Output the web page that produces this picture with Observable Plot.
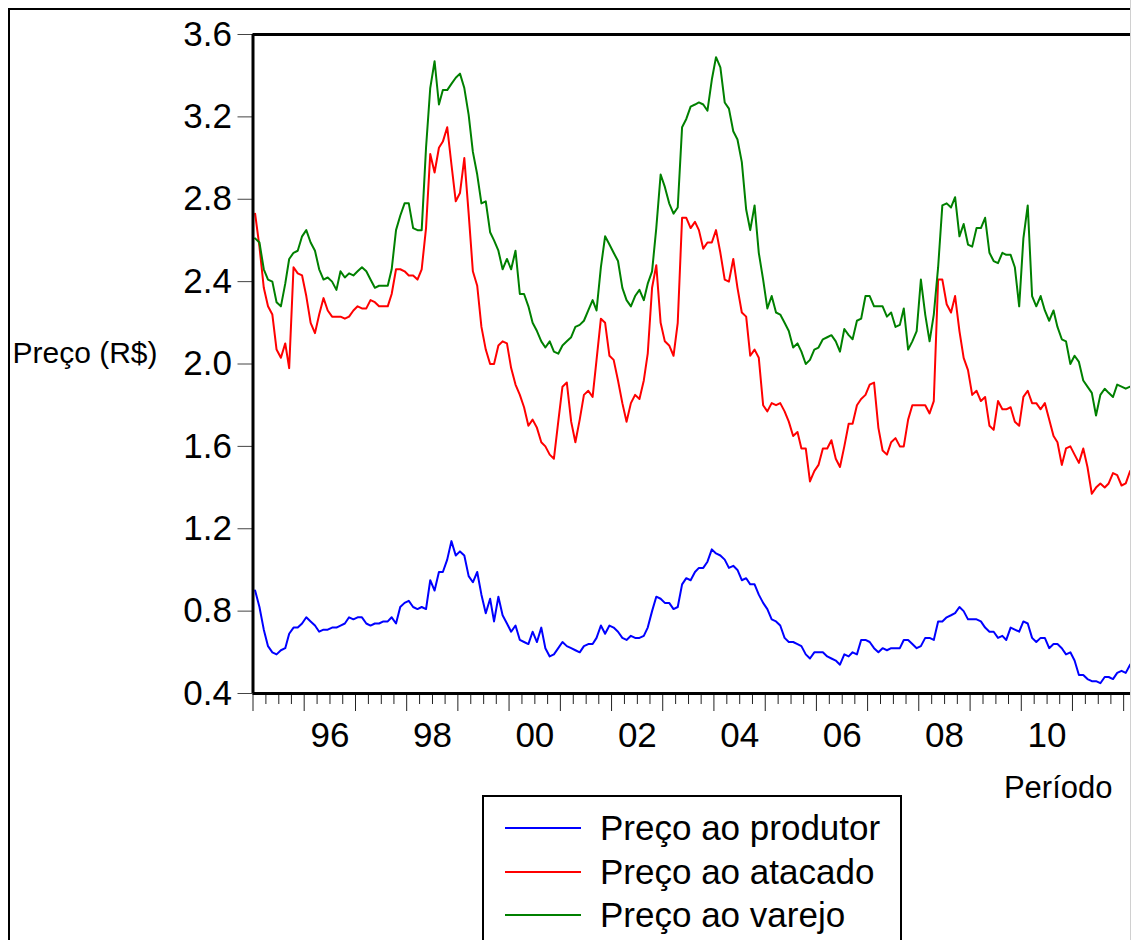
<!DOCTYPE html>
<html><head><meta charset="utf-8">
<script src="https://cdn.jsdelivr.net/npm/d3@7"></script>
<script src="https://cdn.jsdelivr.net/npm/@observablehq/plot@0.6"></script>
<style>
body{margin:0;background:#fff;font-family:"Liberation Sans",Arial,sans-serif;}
#wrap{position:relative;width:1131px;height:940px;overflow:hidden;background:#fff;}
#wrap svg{position:absolute;left:0;top:0;}
.abs{position:absolute;}
</style></head><body><div id="wrap"></div>
<script>
// first observation: July 1994, monthly
const startYear = 1994, startMonth = 7;
const produtor = [
0.90,0.82,0.71,0.63,0.60,0.59,0.61,0.62,0.69,0.72,
0.72,0.74,0.77,0.75,0.73,0.70,0.71,0.71,0.72,0.72,
0.73,0.74,0.77,0.76,0.77,0.77,0.74,0.73,0.74,0.74,
0.75,0.75,0.77,0.74,0.82,0.84,0.85,0.82,0.81,0.82,
0.81,0.95,0.90,0.99,0.99,1.05,1.14,1.07,1.09,1.07,
0.97,0.94,0.99,0.88,0.79,0.86,0.75,0.87,0.78,0.74,
0.70,0.73,0.66,0.65,0.64,0.70,0.65,0.72,0.62,0.58,
0.59,0.62,0.65,0.63,0.62,0.61,0.60,0.63,0.64,0.64,
0.67,0.73,0.69,0.73,0.72,0.70,0.67,0.66,0.68,0.67,
0.67,0.68,0.72,0.80,0.87,0.86,0.84,0.84,0.81,0.82,
0.93,0.96,0.95,0.99,1.01,1.01,1.04,1.10,1.08,1.07,
1.05,1.01,1.02,1.00,0.95,0.96,0.93,0.93,0.88,0.84,
0.81,0.76,0.75,0.73,0.67,0.65,0.65,0.64,0.63,0.59,
0.57,0.60,0.60,0.60,0.58,0.57,0.56,0.54,0.59,0.58,
0.60,0.59,0.66,0.66,0.65,0.62,0.60,0.62,0.61,0.62,
0.62,0.62,0.66,0.66,0.64,0.62,0.63,0.67,0.67,0.66,
0.75,0.75,0.77,0.78,0.79,0.82,0.80,0.76,0.76,0.76,
0.75,0.72,0.70,0.70,0.67,0.68,0.66,0.72,0.71,0.70,
0.75,0.74,0.67,0.65,0.67,0.67,0.62,0.64,0.64,0.62,
0.59,0.60,0.56,0.49,0.49,0.47,0.46,0.46,0.45,0.48,
0.48,0.47,0.50,0.51,0.50,0.54];
const atacado = [
2.73,2.57,2.37,2.28,2.24,2.07,2.03,2.10,1.98,2.47,
2.44,2.43,2.33,2.20,2.15,2.24,2.32,2.26,2.23,2.23,
2.23,2.22,2.23,2.26,2.28,2.27,2.27,2.31,2.30,2.28,
2.28,2.28,2.34,2.46,2.46,2.45,2.43,2.43,2.41,2.46,
2.66,3.02,2.93,3.05,3.08,3.15,2.97,2.79,2.83,3.00,
2.73,2.45,2.38,2.18,2.07,2.00,2.00,2.09,2.11,2.10,
1.98,1.90,1.85,1.79,1.70,1.73,1.69,1.62,1.60,1.56,
1.54,1.72,1.89,1.91,1.72,1.62,1.73,1.85,1.87,1.84,
2.02,2.22,2.20,2.04,2.02,1.92,1.81,1.72,1.81,1.85,
1.83,1.92,2.05,2.37,2.48,2.20,2.11,2.09,2.04,2.20,
2.71,2.71,2.66,2.69,2.65,2.56,2.59,2.59,2.65,2.54,
2.41,2.40,2.51,2.37,2.25,2.23,2.04,2.07,2.03,1.80,
1.77,1.81,1.80,1.81,1.77,1.72,1.65,1.67,1.59,1.59,
1.43,1.48,1.51,1.59,1.59,1.63,1.54,1.50,1.60,1.71,
1.71,1.80,1.83,1.85,1.90,1.91,1.69,1.58,1.56,1.62,
1.64,1.60,1.60,1.73,1.80,1.80,1.80,1.80,1.76,1.82,
2.41,2.41,2.29,2.25,2.33,2.16,2.03,1.97,1.85,1.87,
1.82,1.84,1.70,1.68,1.82,1.78,1.78,1.79,1.72,1.70,
1.84,1.87,1.81,1.81,1.78,1.81,1.73,1.65,1.62,1.51,
1.59,1.60,1.56,1.52,1.59,1.50,1.37,1.40,1.42,1.40,
1.42,1.47,1.46,1.41,1.42,1.48];
const varejo = [
2.61,2.59,2.46,2.41,2.40,2.30,2.28,2.39,2.51,2.54,
2.55,2.62,2.65,2.59,2.55,2.46,2.41,2.42,2.40,2.36,
2.45,2.42,2.44,2.43,2.45,2.47,2.45,2.41,2.37,2.38,
2.38,2.38,2.46,2.65,2.72,2.78,2.78,2.66,2.65,2.65,
3.05,3.34,3.47,3.26,3.33,3.33,3.36,3.39,3.41,3.34,
3.21,3.03,2.92,2.78,2.79,2.64,2.60,2.55,2.46,2.51,
2.46,2.55,2.34,2.34,2.28,2.20,2.16,2.11,2.08,2.11,
2.06,2.05,2.09,2.11,2.13,2.18,2.19,2.21,2.26,2.31,
2.26,2.47,2.62,2.58,2.54,2.50,2.37,2.31,2.28,2.33,
2.36,2.31,2.39,2.45,2.66,2.92,2.86,2.78,2.73,2.76,
3.15,3.19,3.25,3.26,3.27,3.26,3.23,3.38,3.49,3.44,
3.27,3.24,3.13,3.09,2.98,2.75,2.65,2.77,2.54,2.41,
2.27,2.33,2.25,2.24,2.20,2.16,2.08,2.10,2.06,2.00,
2.02,2.07,2.08,2.12,2.13,2.14,2.11,2.06,2.17,2.14,
2.12,2.21,2.22,2.33,2.33,2.28,2.28,2.28,2.23,2.25,
2.18,2.19,2.27,2.07,2.11,2.16,2.41,2.24,2.11,2.24,
2.47,2.77,2.78,2.76,2.81,2.62,2.68,2.58,2.57,2.66,
2.66,2.71,2.54,2.50,2.49,2.54,2.53,2.53,2.47,2.28,
2.61,2.77,2.33,2.28,2.33,2.26,2.21,2.26,2.18,2.12,
2.11,2.00,2.04,2.01,1.92,1.89,1.86,1.75,1.85,1.88,
1.86,1.84,1.90,1.89,1.88,1.89];
const seriesNames = ["Preço ao produtor", "Preço ao atacado", "Preço ao varejo"];
const seriesColors = ["#0000ff", "#ff0000", "#008000"];
const yTicks = [0.4, 0.8, 1.2, 1.6, 2.0, 2.4, 2.8, 3.2, 3.6];
const labelYears = [1996, 1998, 2000, 2002, 2004, 2006, 2008, 2010];
const tickYears = d3.range(1994, 2012);
const yLabel = "Preço (R$)";
const xLabel = "Período";

const FONT = '"Liberation Sans", Arial, Helvetica, sans-serif';
const obsDate = k => new Date(Date.UTC(startYear, startMonth - 1 + k, 16));
const allSeries = [produtor, atacado, varejo];
const rows = [];
allSeries.forEach((vals, s) => vals.forEach((v, k) => rows.push({date: obsDate(k), value: v, series: seriesNames[s]})));

const x0 = new Date(Date.UTC(1994, 6, 1));
const x1 = new Date(Date.UTC(2011, 7, 26));
const majorTicks = tickYears.map(y => new Date(Date.UTC(y, 6, 1)));
const minorTicks = [];
tickYears.forEach(y => [0, 3, 9].forEach(m => {
  const d = new Date(Date.UTC(y, m, 1));
  if (d >= x0 && d <= x1) minorTicks.push(d);
}));
const labelDates = labelYears.map(y => new Date(Date.UTC(y, 0, 1)));

const chart = Plot.plot({
  width: 1131, height: 940,
  marginLeft: 252.5, marginRight: 0, marginTop: 34, marginBottom: 247,
  style: {fontFamily: FONT, background: "transparent", color: "#000", overflow: "visible"},
  x: {type: "utc", domain: [x0, x1], axis: null},
  y: {domain: [0.4, 3.6], axis: null},
  color: {domain: seriesNames, range: seriesColors},
  marks: [
    Plot.axisY(yTicks, {tickSize: 15, tickPadding: 6, fontSize: 35, tickFormat: d => d.toFixed(1), label: null, stroke: "#444"}),
    Plot.axisX(minorTicks, {tickSize: 11, tickFormat: () => "", label: null, stroke: "#222"}),
    Plot.axisX(majorTicks, {tickSize: 18, tickFormat: () => "", label: null, stroke: "#222"}),
    Plot.axisX(labelDates, {tickSize: 0, tickPadding: 29, fontSize: 35, label: null,
      tickFormat: d => String(d.getUTCFullYear() % 100).padStart(2, "0")}),
    Plot.line(rows, {x: "date", y: "value", z: "series", stroke: "series", strokeWidth: 2}),
    Plot.ruleY([0.4, 3.6], {strokeWidth: 3, stroke: "#000"}),
    Plot.ruleX([x0], {strokeWidth: 3, stroke: "#000"}),
    Plot.text([yLabel], {text: d => d, frameAnchor: "top-left", dx: -240.5, dy: 307, textAnchor: "start", fontSize: 30}),
    Plot.text([xLabel], {text: d => d, frameAnchor: "bottom-right", dx: -19, dy: 104, textAnchor: "end", fontSize: 31})
  ]
});
const wrap = document.getElementById("wrap");
wrap.appendChild(chart);

// outer border
const ob = document.createElement("div");
ob.className = "abs";
ob.style.cssText = "left:8px;top:8px;width:1200px;height:1000px;border-left:2px solid #000;border-top:2px solid #000;";
wrap.appendChild(ob);
const rb = document.createElement("div");
rb.className = "abs";
rb.style.cssText = "left:1130px;top:0;width:1px;height:940px;background:#d0d0d0;";
wrap.appendChild(rb);

// legend
const lg = document.createElement("div");
lg.className = "abs";
lg.style.cssText = "left:482px;top:795px;width:416px;height:200px;border:2px solid #000;background:#fff;";
const lineYs = [828, 872, 915];
seriesNames.forEach((name, i) => {
  const ln = document.createElement("div");
  ln.className = "abs";
  ln.style.cssText = `left:21px;top:${lineYs[i] - 797 - 1}px;width:76px;height:2px;background:${seriesColors[i]};`;
  lg.appendChild(ln);
  const tx = document.createElement("div");
  tx.className = "abs";
  tx.style.cssText = `left:116px;top:${lineYs[i] - 797 - 22}px;height:44px;line-height:44px;font-size:35px;font-family:${FONT};white-space:nowrap;color:#000;`;
  tx.textContent = name;
  lg.appendChild(tx);
});
wrap.appendChild(lg);
</script>
</body></html>
